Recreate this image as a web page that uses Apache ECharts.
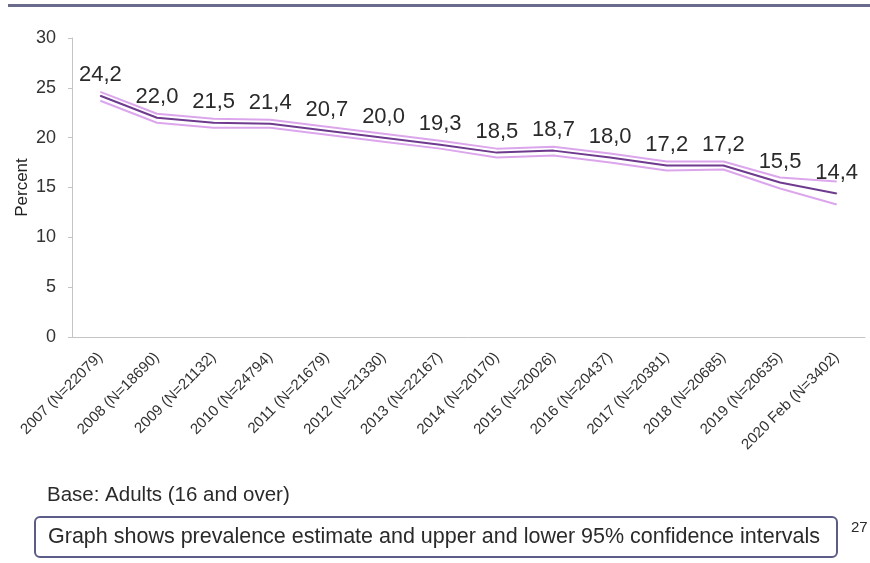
<!DOCTYPE html>
<html>
<head>
<meta charset="utf-8">
<script src="https://cdn.jsdelivr.net/npm/echarts@6/dist/echarts.min.js"></script>
<style>
  html, body { margin: 0; padding: 0; background: #fff; }
  #chart { width: 870px; height: 563px; }
</style>
</head>
<body>
<div id="chart"></div>
<script>
// categories (survey year and base size)
const years = [
  '2007 (N=22079)', '2008 (N=18690)', '2009 (N=21132)', '2010 (N=24794)',
  '2011 (N=21679)', '2012 (N=21330)', '2013 (N=22167)', '2014 (N=20170)',
  '2015 (N=20026)', '2016 (N=20437)', '2017 (N=20381)', '2018 (N=20685)',
  '2019 (N=20635)', '2020 Feb (N=3402)'
]
// prevalence estimate, %
const estimate = [24.2, 22.0, 21.5, 21.4, 20.7, 20.0, 19.3, 18.5, 18.7, 18.0, 17.2, 17.2, 15.5, 14.4]
// 95% confidence interval bounds
const upperCI = [24.6, 22.4, 21.9, 21.8, 21.1, 20.4, 19.7, 18.9, 19.1, 18.4, 17.6, 17.6, 16.0, 15.6]
const lowerCI = [23.7, 21.5, 21.0, 21.0, 20.3, 19.6, 18.9, 18.0, 18.2, 17.5, 16.7, 16.8, 14.9, 13.3]

const yTicks = { min: 0, max: 30, interval: 5 }

const chart = echarts.init(document.getElementById('chart'))

const darkLine = '#6e3b8e'
const lightLine = '#dca6ec'

const option = {
    animation: false,
    textStyle: { fontFamily: 'Liberation Sans, Arial, sans-serif' },
    grid: { left: 72, right: 5, top: 38, bottom: 226 },
    xAxis: {
        type: 'category',
        data: years,
        boundaryGap: true,
        axisLine: { lineStyle: { color: '#c4c4c4', width: 1 } },
        axisTick: { show: false },
        axisLabel: {
            rotate: 45,
            interval: 0,
            margin: 18,
            fontSize: 15,
            color: '#333'
        }
    },
    yAxis: {
        type: 'value',
        min: yTicks.min,
        max: yTicks.max,
        interval: yTicks.interval,
        name: 'Percent',
        nameLocation: 'middle',
        nameGap: 41,
        nameMoveOverlap: false,
        nameTextStyle: { fontSize: 17, color: '#222' },
        axisLine: { show: true, lineStyle: { color: '#c4c4c4' } },
        axisTick: { show: true, length: 4, lineStyle: { color: '#c4c4c4' } },
        axisLabel: { fontSize: 18, color: '#333', margin: 16 },
        splitLine: { show: false }
    },
    series: [
        {
            name: 'Upper 95% CI',
            type: 'line',
            data: upperCI,
            symbol: 'none',
            lineStyle: { color: lightLine, width: 2 },
            z: 1
        },
        {
            name: 'Lower 95% CI',
            type: 'line',
            data: lowerCI,
            symbol: 'none',
            lineStyle: { color: lightLine, width: 2 },
            z: 1
        },
        {
            name: 'Estimate',
            type: 'line',
            data: estimate,
            // tiny symbol so the value labels are drawn
            symbol: 'circle',
            symbolSize: 1,
            itemStyle: { color: darkLine },
            lineStyle: { color: darkLine, width: 2 },
            z: 3,
            label: {
                show: true,
                position: 'top',
                distance: 9,
                fontSize: 22,
                color: '#2a2a2a',
                formatter: (p) => p.value.toFixed(1).replace('.', ',')
            }
        }
    ],
    graphic: [
        {
            type: 'rect',
            shape: { x: 8, y: 4, width: 862, height: 3 },
            style: { fill: '#6a6a8c' }
        },
        {
            type: 'text',
            left: 47,
            top: 485,
            style: {
                text: 'Base: Adults (16 and over)',
                font: '20.5px Liberation Sans, Arial, sans-serif',
                fill: '#2a2a2a'
            }
        },
        {
            type: 'rect',
            shape: { x: 35, y: 517, width: 802, height: 40, r: 5 },
            style: { fill: '#fff', stroke: '#5c5c88', lineWidth: 2 }
        },
        {
            type: 'text',
            left: 48,
            top: 526,
            style: {
                text: 'Graph shows prevalence estimate and upper and lower 95% confidence intervals',
                font: '21.5px Liberation Sans, Arial, sans-serif',
                fill: '#2a2a2a'
            }
        },
        {
            type: 'text',
            left: 851,
            top: 520,
            style: {
                text: '27',
                font: '15px Liberation Sans, Arial, sans-serif',
                fill: '#2a2a2a'
            }
        }
    ]
}

chart.setOption(option)
</script>
</body>
</html>
